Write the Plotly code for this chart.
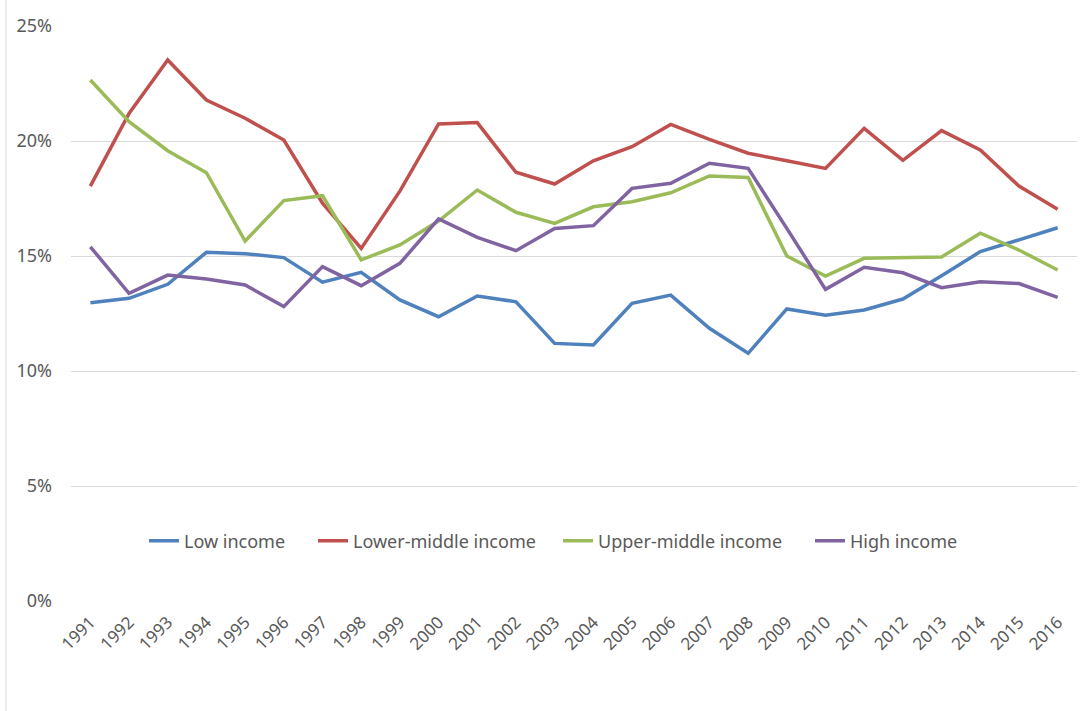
import plotly.graph_objects as go

years = [str(y) for y in range(1991, 2017)]

low_income = [12.97, 13.16, 13.77, 15.16, 15.10, 14.93, 13.86, 14.29, 13.09, 12.36,
              13.26, 13.01, 11.20, 11.13, 12.94, 13.30, 11.86, 10.77, 12.70, 12.42,
              12.65, 13.13, 14.14, 15.19, 15.70, 16.23]
lower_middle = [18.04, 21.20, 23.52, 21.78, 20.99, 20.04, 17.30, 15.33, 17.82, 20.74,
                20.80, 18.64, 18.13, 19.14, 19.75, 20.72, 20.07, 19.47, 19.14, 18.81,
                20.55, 19.16, 20.45, 19.61, 18.04, 17.03]
upper_middle = [22.65, 20.84, 19.58, 18.62, 15.65, 17.41, 17.62, 14.83, 15.48, 16.52,
                17.87, 16.90, 16.42, 17.14, 17.36, 17.75, 18.48, 18.41, 15.00, 14.13,
                14.90, 14.93, 14.96, 15.99, 15.26, 14.39]
high_income = [15.40, 13.38, 14.17, 14.00, 13.74, 12.80, 14.54, 13.71, 14.68, 16.61,
               15.81, 15.23, 16.20, 16.32, 17.94, 18.16, 19.03, 18.81, 16.20, 13.55,
               14.51, 14.27, 13.62, 13.88, 13.80, 13.20]

series = [
    ("Low income", low_income, "#4F81BD", 124),
    ("Lower-middle income", lower_middle, "#C0504D", 200),
    ("Upper-middle income", upper_middle, "#9BBB59", 207),
    ("High income", high_income, "#8064A2", 110),
]

y_ticks = [0, 0.05, 0.10, 0.15, 0.20, 0.25]

FONT = "Noto Sans"
GRAY = "#595959"

fig = go.Figure()
for name, vals, color, lw in series:
    fig.add_trace(go.Scatter(
        x=years, y=[v / 100 for v in vals], name=name, mode="lines",
        line=dict(color=color, width=3.5), legendwidth=lw,
    ))

W, H = 1080, 711
ml, mr, mt, mb = 71, 3, 26, 110
pw = W - ml - mr
ph = H - mt - mb

fig.update_layout(
    width=W, height=H,
    margin=dict(l=ml, r=mr, t=mt, b=mb, autoexpand=False),
    paper_bgcolor="white", plot_bgcolor="white",
    font=dict(family=FONT, color=GRAY, size=16),
    showlegend=True,
    legend=dict(
        orientation="h", x=(144 - ml) / pw, xanchor="left",
        y=(601 - 541) / ph, yanchor="middle",
        bgcolor="rgba(0,0,0,0)", font=dict(size=18, color=GRAY, family=FONT),
    ),
    xaxis=dict(
        type="category", range=[-0.5, 25.5], showgrid=False, showline=False,
        zeroline=False, tickangle=-45, ticks="", tickfont=dict(size=17, color=GRAY),
        ticklabelstandoff=7, automargin=False,
    ),
    yaxis=dict(
        range=[0, 0.25], tickvals=y_ticks, tickformat=".0%", showgrid=True,
        gridcolor="#D9D9D9", gridwidth=1, zeroline=False, showline=False,
        ticks="", tickfont=dict(size=18, color=GRAY), ticklabelstandoff=18,
        automargin=False,
    ),
)

# chart-area border line on the left
fig.add_shape(type="line", xref="paper", yref="paper",
              x0=(6 - ml) / pw, x1=(6 - ml) / pw,
              y0=(601 - 711) / ph, y1=(601 - 0) / ph,
              line=dict(color="#D9D9D9", width=1))

fig.write_html("out.html", config={"displayModeBar": False},
               post_script="document.body.style.margin='0';document.body.style.overflow='hidden';")
